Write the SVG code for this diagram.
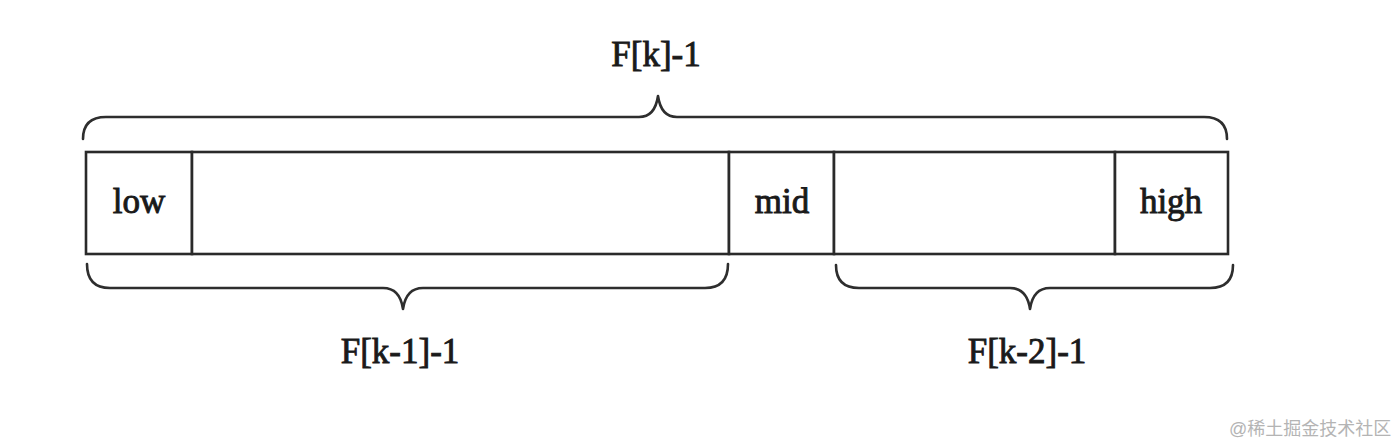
<svg xmlns="http://www.w3.org/2000/svg" width="1396" height="444" viewBox="0 0 1396 444">
<style>
.cell{fill:#fff;stroke:#2a2a2a;stroke-width:2.6}
.brace{fill:none;stroke:#2e2e2e;stroke-width:2.6;stroke-linejoin:round;stroke-linecap:round}
.t{font-family:"Liberation Serif","Times New Roman",serif;font-size:35px;fill:#1a1a1a;text-anchor:middle;stroke:#1a1a1a;stroke-width:0.9}
.wm{font-family:"Liberation Sans","Noto Sans CJK SC",sans-serif;font-size:18px;fill:#b4b4b4}
</style>
<rect width="1396" height="444" fill="#fff"/>
<g id="cell-low"><rect class="cell" x="86" y="152" width="106" height="102"/><text class="t" x="139" y="213">low</text></g>
<g id="cell-left"><rect class="cell" x="192" y="152" width="537" height="102"/></g>
<g id="cell-mid"><rect class="cell" x="729" y="152" width="105" height="102"/><text class="t" x="782" y="213">mid</text></g>
<g id="cell-right"><rect class="cell" x="834" y="152" width="281" height="102"/></g>
<g id="cell-high"><rect class="cell" x="1115" y="152" width="113" height="102"/><text class="t" x="1171" y="213">high</text></g>
<g id="connectors">
<path class="brace" d="M83,139 Q83,117 106,117 L639,117 Q655,117 658,96 Q661,117 677,117 L1204,117 Q1227,117 1227,139"/>
<path class="brace" d="M87,264 Q87,288 110,288 L383,288 Q400,288 403,309 Q406,288 423,288 L705,288 Q728,288 728,264"/>
<path class="brace" d="M836,265 Q836,288 859,288 L1010,288 Q1027,288 1030,309 Q1033,288 1050,288 L1210,288 Q1233,288 1233,265"/>
</g>
<g id="labels">
<text class="t" x="656" y="66">F[k]-1</text>
<text class="t" x="400" y="363">F[k-1]-1</text>
<text class="t" x="1027" y="363">F[k-2]-1</text>
</g>
<text class="wm" x="1229" y="435">@稀土掘金技术社区</text>
</svg>
